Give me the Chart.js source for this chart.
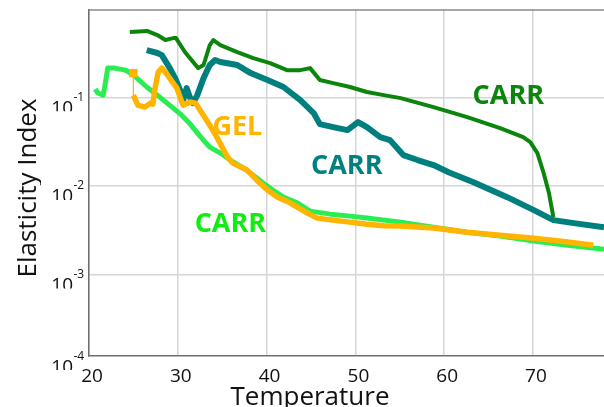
<!DOCTYPE html>
<html>
<head>
<meta charset="utf-8">
<script src="https://cdn.jsdelivr.net/npm/chart.js@4/dist/chart.umd.min.js"></script>
<style>
  body { margin: 0; background: #fff; }
  canvas { display: block; }
</style>
</head>
<body>
<canvas id="chart" width="604" height="407"></canvas>
<script>
// Dark green CARR (upper curve)
const carrHighT = [24.6, 26.6, 27.7, 28.6, 29.5, 29.8, 30.8, 32.3, 32.9, 33.6, 34.0, 34.8, 36.7, 38.5, 40.4, 42.3, 43.8, 44.9, 46.0, 47.5, 49.4, 51.3, 53.2, 55.1, 58.8, 62.6, 66.3, 68.9, 69.7, 70.5, 71.2, 71.8, 72.3];
const carrHighE = [0.547, 0.561, 0.506, 0.444, 0.467, 0.467, 0.325, 0.214, 0.232, 0.390, 0.444, 0.390, 0.325, 0.278, 0.244, 0.203, 0.203, 0.214, 0.157, 0.145, 0.131, 0.115, 0.106, 0.098, 0.0777, 0.0599, 0.045, 0.0356, 0.0312, 0.0235, 0.0140, 0.0083, 0.00445];

// Teal CARR (middle curve)
const carrMidT = [26.5, 27.7, 28.2, 29.1, 29.7, 30.3, 30.6, 31.0, 31.4, 31.7, 32.2, 32.9, 33.6, 34.2, 34.8, 36.7, 38.2, 40.1, 41.9, 43.8, 45.3, 46.0, 47.5, 49.1, 50.3, 51.3, 52.8, 53.9, 55.4, 57.0, 58.8, 60.5, 63.3, 67.1, 70.1, 72.3, 74.6, 78.0];
const carrMidE = [0.342, 0.317, 0.300, 0.214, 0.165, 0.118, 0.093, 0.127, 0.098, 0.086, 0.106, 0.165, 0.232, 0.264, 0.251, 0.232, 0.188, 0.157, 0.131, 0.093, 0.0665, 0.0499, 0.0461, 0.0427, 0.0526, 0.0461, 0.0356, 0.0329, 0.0223, 0.0196, 0.0172, 0.0143, 0.0110, 0.00747, 0.00533, 0.00411, 0.00380, 0.00342];

// Bright green CARR (lower curve)
const carrLowT = [20.7, 21.0, 21.6, 21.9, 22.1, 22.9, 24.1, 25.0, 26.5, 27.7, 28.8, 30.3, 31.4, 32.5, 33.6, 34.8, 35.9, 37.4, 38.5, 39.6, 40.7, 41.9, 43.5, 44.9, 47.2, 49.4, 51.3, 55.1, 58.8, 62.6, 66.3, 70.1, 73.9, 78.0];
const carrLowE = [0.124, 0.112, 0.106, 0.157, 0.214, 0.214, 0.203, 0.179, 0.131, 0.106, 0.0862, 0.0648, 0.0499, 0.0365, 0.0274, 0.0235, 0.0196, 0.0159, 0.0132, 0.0108, 0.00898, 0.00748, 0.0064, 0.00519, 0.0048, 0.00456, 0.00433, 0.0039, 0.00342, 0.0030, 0.00271, 0.00238, 0.00214, 0.00193];

// Orange GEL
const gelT = [25.0, 25.0, 25.5, 26.3, 26.9, 27.2, 27.4, 27.8, 28.2, 28.6, 29.4, 29.9, 30.3, 30.6, 31.4, 32.0, 32.5, 33.1, 33.6, 34.4, 35.6, 36.2, 37.8, 38.9, 40.1, 41.2, 42.7, 44.6, 45.7, 47.5, 49.4, 51.3, 53.2, 55.1, 58.8, 62.6, 66.3, 70.1, 73.9, 76.8];
const gelE = [0.188, 0.106, 0.0818, 0.0777, 0.0862, 0.084, 0.121, 0.193, 0.214, 0.193, 0.149, 0.127, 0.098, 0.0818, 0.0885, 0.0862, 0.0718, 0.0582, 0.0485, 0.0356, 0.0211, 0.0181, 0.0151, 0.0116, 0.00898, 0.00748, 0.0064, 0.00493, 0.00433, 0.00411, 0.0039, 0.0037, 0.00355, 0.00352, 0.00334, 0.0030, 0.00278, 0.00257, 0.00232, 0.00214];

const xTicks = [20, 30, 40, 50, 60, 70];
const yTicks = [1e-4, 1e-3, 1e-2, 1e-1];
const yExp = ['-4', '-3', '-2', '-1'];

// text labels: [text, colour, temperature, index]
const notes = [
    ['CARR', '#0b850b', 63.2, 0.084],
    ['CARR', '#008080', 45.0, 0.0136],
    ['CARR', '#12ec12', 31.9, 0.0030],
    ['GEL', '#ffb400', 33.9, 0.0375]
];

const pts = (t, e) => t.map((v, i) => ({ x: v, y: e[i] }));
const FONT = '"Open Sans", "DejaVu Sans", sans-serif';

const decor = {
    id: 'decor',
    afterDraw(chart) {
        const c = chart.ctx, a = chart.chartArea;
        const xs = chart.scales.x, ys = chart.scales.y;
        c.save();

        // top border
        c.strokeStyle = '#8a8a8a';
        c.lineWidth = 1.5;
        c.beginPath();
        c.moveTo(a.left, a.top);
        c.lineTo(a.right, a.top);
        c.stroke();

        c.fillStyle = '#111';
        // y tick labels, 10 with superscript exponent
        yTicks.forEach((v, i) => {
            const g = Math.min(ys.getPixelForValue(v), a.bottom);
            c.save();
            c.beginPath();
            c.rect(0, g - 20, a.left - 2, 34);
            c.clip();
            c.font = '19px ' + FONT;
            c.textAlign = 'right';
            c.textBaseline = 'alphabetic';
            c.fillText('10', 73, g + 16.5);
            c.restore();
            c.font = '12px ' + FONT;
            c.textAlign = 'left';
            c.fillText(yExp[i], 73.5, g + 3.5);
        });

        // x tick labels
        c.font = '19px ' + FONT;
        c.textAlign = 'center';
        xTicks.forEach(v => {
            c.fillText(String(v), xs.getPixelForValue(v) + 3, 381.5);
        });

        // axis titles
        c.font = '26px ' + FONT;
        c.fillText('Temperature', 310, 405);
        c.save();
        c.beginPath();
        c.rect(0, 0, 41, 407);
        c.clip();
        c.translate(36, 188);
        c.rotate(-Math.PI / 2);
        c.fillText('Elasticity Index', 0, 0);
        c.restore();

        // curve labels
        c.font = 'bold 27px ' + FONT;
        c.textAlign = 'left';
        notes.forEach(n => {
            c.fillStyle = n[1];
            c.fillText(n[0], xs.getPixelForValue(n[2]), ys.getPixelForValue(n[3]));
        });
        c.restore();
    }
};

const gridOpts = { color: '#d6d6d6', lineWidth: 1.5, drawTicks: false };

new Chart(document.getElementById('chart'), {
    type: 'scatter',
    data: {
        datasets: [
            {
                label: 'GEL', data: pts(gelT, gelE), borderColor: '#ffb400', backgroundColor: '#ffb400',
                borderWidth: 5.5, showLine: true, borderJoinStyle: 'round', order: 1,
                pointStyle: 'rect', pointRadius: ctx => ctx.dataIndex === 0 ? 2 : 0,
                segment: { borderWidth: ctx => ctx.p0DataIndex === 0 ? 1.2 : undefined }
            },
            { label: 'CARR mid', data: pts(carrMidT, carrMidE), borderColor: '#007f7f', backgroundColor: '#007f7f', borderWidth: 6, pointRadius: 0, showLine: true, borderJoinStyle: 'round', order: 2 },
            { label: 'CARR low', data: pts(carrLowT, carrLowE), borderColor: '#2aed52', backgroundColor: '#2aed52', borderWidth: 5, pointRadius: 0, showLine: true, borderJoinStyle: 'round', order: 3 },
            { label: 'CARR high', data: pts(carrHighT, carrHighE), borderColor: '#0b850b', backgroundColor: '#0b850b', borderWidth: 4, pointRadius: 0, showLine: true, borderJoinStyle: 'round', order: 4 }
        ]
    },
    options: {
        responsive: false,
        animation: false,
        layout: { autoPadding: false, padding: { left: 89, top: 10, right: 0, bottom: 51 } },
        plugins: { legend: { display: false }, tooltip: { enabled: false } },
        scales: {
            x: {
                type: 'linear', min: 20, max: 78,
                ticks: { display: false },
                afterBuildTicks: s => { s.ticks = xTicks.map(v => ({ value: v })); },
                grid: gridOpts,
                border: { display: true, color: '#6e6e6e', width: 1.5 }
            },
            y: {
                type: 'logarithmic', min: 1.2e-4, max: 0.97,
                ticks: { display: false },
                afterBuildTicks: s => { s.ticks = yTicks.filter(v => v > s.min).map(v => ({ value: v })); },
                grid: gridOpts,
                border: { display: true, color: '#6e6e6e', width: 1.5 }
            }
        }
    },
    plugins: [decor]
});
</script>
</body>
</html>
